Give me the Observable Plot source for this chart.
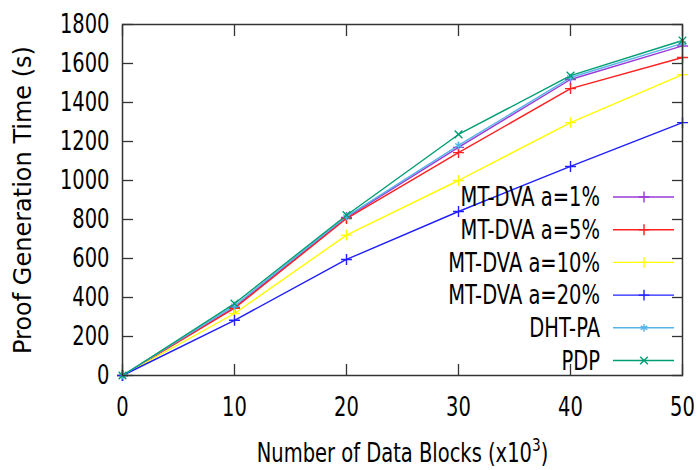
<!DOCTYPE html>
<html>
<head>
<meta charset="utf-8">
<script src="https://cdn.jsdelivr.net/npm/d3@7"></script>
<script src="https://cdn.jsdelivr.net/npm/@observablehq/plot@0.6"></script>
<style>
  html, body { margin: 0; padding: 0; background: #fff; }
  #chart { width: 697px; height: 470px; }
</style>
</head>
<body>
<div id="chart"></div>
<script>
// ---- data ----
const blocks = [0, 10, 20, 30, 40, 50];
const seriesNames = ["MT-DVA a=1%", "MT-DVA a=5%", "MT-DVA a=10%", "MT-DVA a=20%", "DHT-PA", "PDP"];
const mtDva1 = [0, 350, 810, 1170, 1518, 1690];
const mtDva5 = [0, 345, 805, 1143, 1471, 1631];
const mtDva10 = [0, 318, 720, 1000, 1297, 1543];
const mtDva20 = [0, 283, 595, 841, 1072, 1297];
const dhtPa = [0, 358, 815, 1180, 1528, 1703];
const pdp = [0, 369, 822, 1236, 1538, 1718];
const seriesValues = [mtDva1, mtDva5, mtDva10, mtDva20, dhtPa, pdp];
const seriesColors = ["#9a3ad8", "#ff2020", "#ffff00", "#2020ff", "#56b4e9", "#009e73"];
const seriesSymbols = ["plus", "plus", "plus", "plus", "asterisk", "times"];
const xTicks = [0, 10, 20, 30, 40, 50];
const yTicks = [0, 200, 400, 600, 800, 1000, 1200, 1400, 1600, 1800];

const rows = [];
seriesNames.forEach((name, i) => {
  blocks.forEach((b, j) => rows.push({series: name, blocks: b, time: seriesValues[i][j], symbol: seriesSymbols[i]}));
});

const W = 697, H = 470;
const mL = 122, mR = 15, mT = 24, mB = 95;
const axisColor = "#333";
const fs = 26, sx = 0.75;

const svg = Plot.plot({
  width: W,
  height: H,
  marginLeft: mL,
  marginRight: mR,
  marginTop: mT,
  marginBottom: mB,
  style: {fontFamily: "DejaVu Sans, sans-serif", fontSize: fs + "px", color: "#000", background: "#fff", overflow: "visible"},
  x: {domain: [0, 50]},
  y: {domain: [0, 1800]},
  symbol: {domain: ["plus", "asterisk", "times"], range: ["plus", "asterisk", "times"]},
  color: {domain: seriesNames, range: seriesColors},
  marks: [
    Plot.axisX({ticks: xTicks, tickSize: -11, tickPadding: 33, stroke: axisColor, strokeWidth: 1.3, tickFormat: d => String(d),
      label: "Number of Data Blocks (x10³)", labelAnchor: "center", labelOffset: 86, labelArrow: "none"}),
    Plot.axisX({anchor: "top", ticks: xTicks, tickSize: -11, tickFormat: () => "", label: null, stroke: axisColor, strokeWidth: 1.3}),
    Plot.axisY({ticks: yTicks, tickSize: -11, tickPadding: 24, stroke: axisColor, strokeWidth: 1.3, tickFormat: d => String(d),
      label: "Proof Generation Time (s)", labelAnchor: "center", labelOffset: 109, labelArrow: "none"}),
    Plot.axisY({anchor: "right", ticks: yTicks, tickSize: -11, tickFormat: () => "", label: null, stroke: axisColor, strokeWidth: 1.3}),
    Plot.line(rows, {x: "blocks", y: "time", z: "series", stroke: "series", strokeWidth: 1.4}),
    Plot.dot(rows, {x: "blocks", y: "time", stroke: "series", symbol: "symbol", r: 3.6, strokeWidth: 1.4}),
    Plot.frame({stroke: axisColor, strokeWidth: 1.5})
  ]
});

// compress horizontal text to match the reference's narrow type
d3.select(svg).selectAll("text").each(function() {
  const g = this.parentNode;
  const lbl = g && g.getAttribute("aria-label");
  if (lbl === "y-axis label") { this.setAttribute("font-size", 24); return; }
  const t = this.getAttribute("transform") || "";
  this.setAttribute("transform", t + ` scale(${sx},1)`);
  if (lbl === "x-axis label") {
    const el = d3.select(this);
    const txt = el.text().replace("³)", "");
    el.text(null);
    el.append("tspan").text(txt);
    el.append("tspan").attr("font-size", "70%").attr("dy", "-0.55em").text("3");
    el.append("tspan").attr("dy", "0.385em").text(")");
  }
});

// legend inside the plot area, lower right
const leg = d3.select(svg).append("g").attr("aria-label", "legend");
const frameRight = W - mR;
const textX = frameRight - 82;
const lineX1 = frameRight - 69, lineX2 = frameRight - 8, markX = frameRight - 38;
const rowTop = mT + 173, rowStep = 32.7;
const symMap = {plus: d3.symbolPlus, asterisk: d3.symbolAsterisk, times: d3.symbolTimes};
seriesNames.forEach((name, i) => {
  const y = rowTop + i * rowStep;
  leg.append("text")
    .attr("transform", `translate(${textX},${y}) scale(${sx},1)`)
    .attr("text-anchor", "end")
    .attr("dy", "0.35em")
    .attr("font-family", "DejaVu Sans, sans-serif")
    .attr("font-size", fs)
    .attr("fill", "#000")
    .text(name);
  leg.append("line")
    .attr("x1", lineX1).attr("x2", lineX2).attr("y1", y).attr("y2", y)
    .attr("stroke", seriesColors[i]).attr("stroke-width", 1.4);
  leg.append("path")
    .attr("transform", `translate(${markX},${y})`)
    .attr("d", d3.symbol(symMap[seriesSymbols[i]], Math.PI * 3.6 * 3.6)())
    .attr("fill", "none")
    .attr("stroke", seriesColors[i]).attr("stroke-width", 1.4);
});

document.getElementById("chart").appendChild(svg);
</script>
</body>
</html>
